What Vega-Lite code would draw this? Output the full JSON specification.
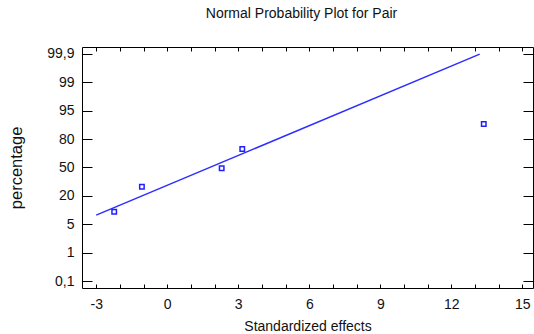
{
  "$schema": "https://vega.github.io/schema/vega-lite/v6.json",
  "width": 451,
  "height": 241,
  "autosize": "none",
  "padding": {"left": 82, "top": 47, "right": 1, "bottom": 46},
  "background": "white",
  "title": {"text": "Normal Probability Plot for Pair", "fontSize": 14, "font": "Liberation Sans", "fontWeight": "normal", "color": "#111", "anchor": "middle", "offset": 26, "dx": -6},
  "config": {
    "view": {"stroke": "#000", "strokeWidth": 1},
    "axis": {"grid": false, "domain": false, "labelFont": "Liberation Sans", "titleFont": "Liberation Sans", "tickColor": "#000", "labelColor": "#111", "titleColor": "#111", "titleFontWeight": "normal"}
  },
  "datasets": {
    "effects": [
      {"effect": -2.24, "percentage": 11.6},
      {"effect": -1.07, "percentage": 29.6},
      {"effect": 2.30, "percentage": 49.1},
      {"effect": 3.17, "percentage": 69.5},
      {"effect": 13.37, "percentage": 87.95}
    ],
    "fit": [
      {"effect": -3.0, "percentage": 9.8},
      {"effect": 13.2, "percentage": 99.89}
    ]
  },
  "layer": [
    {
      "data": {"name": "fit"},
      "mark": {"type": "line", "color": "#2d2dff", "strokeWidth": 1.5},
      "encoding": {
        "x": {"field": "effect", "type": "quantitative",
          "scale": {"domain": [-3.6, 15.45], "nice": false, "zero": false},
          "axis": {"orient": "top", "values": [-3,-2,-1,0,1,2,3,4,5,6,7,8,9,10,11,12,13,14,15], "labels": false, "tickSize": -4, "title": null}},
        "y": {"field": "percentage", "type": "quantitative",
          "scale": {"domain": [0.1,1,5,20,50,80,95,99,99.9], "range": [234,205.6,177.2,148.8,120.4,92,63.6,35.2,6.8], "nice": false, "zero": false},
          "axis": {"orient": "right", "values": [0.1,1,5,20,50,80,95,99,99.9], "labels": false, "tickSize": -10, "title": null}}
      }
    },
    {
      "data": {"name": "effects"},
      "mark": {"type": "point", "shape": "square", "filled": false, "color": "#2020ff", "size": 20, "strokeWidth": 1.5, "opacity": 1},
      "encoding": {
        "x": {"field": "effect", "type": "quantitative",
          "axis": {"orient": "bottom", "values": [-3,-2,-1,0,1,2,3,4,5,6,7,8,9,10,11,12,13,14,15], "tickSize": -4, "labelPadding": 13, "labelFontSize": 14, "labelExpr": "datum.value % 3 == 0 ? replace(datum.label, '\u2212', '-') : ''", "title": "Standardized effects", "titleFontSize": 14, "titlePadding": 8}},
        "y": {"field": "percentage", "type": "quantitative",
          "axis": {"orient": "left", "values": [0.1,1,5,20,50,80,95,99,99.9], "tickSize": -10, "labelPadding": 18, "labelFontSize": 14, "labelExpr": "replace(format(datum.value, '~g'), '.', ',')", "title": "percentage", "titleFontSize": 16.5, "titlePadding": 22}}
      }
    }
  ],
  "resolve": {"axis": {"x": "independent", "y": "independent"}}
}
